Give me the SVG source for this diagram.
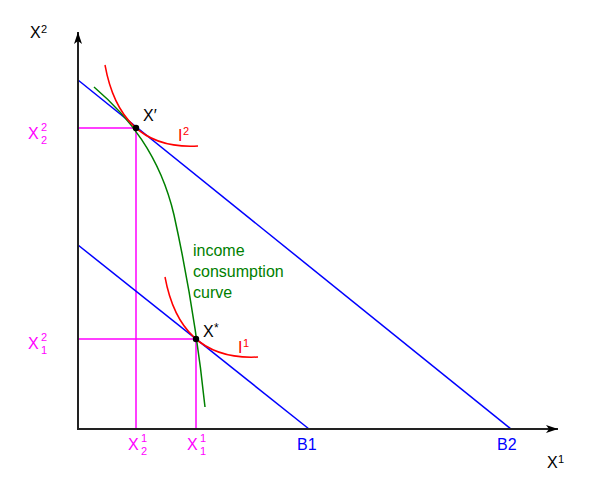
<svg xmlns="http://www.w3.org/2000/svg" width="600" height="492" viewBox="0 0 600 492">
<style>
text{font-family:"Liberation Sans",Arial,sans-serif;font-size:16px}
.sm{font-size:11px}
.mg{fill:#ff00ff}
.bl{fill:#0000ff}
.rd{fill:#ff0000}
.gr{fill:#008000}
.k{fill:#000}
</style>
<defs>
<marker id="ah" markerWidth="14" markerHeight="10" refX="12" refY="5" orient="auto" markerUnits="userSpaceOnUse">
<path d="M0,1 L12,5 L0,9 L3,5 Z" fill="#000"/>
</marker>
</defs>
<rect width="600" height="492" fill="#fff"/>
<g id="connectors" fill="none">
<g id="guides" stroke="#ff00ff" stroke-width="1.5">
<polyline points="78,128 136,128 136,429"/>
<polyline points="78,339 196,339 196,429"/>
</g>
<g id="budgets" stroke="#0000ff" stroke-width="1.5">
<line x1="78" y1="80" x2="511" y2="429"/>
<line x1="78" y1="245" x2="309" y2="429"/>
</g>
<path id="icc" d="M94,87 C128,116 160,155 174,215 C185,265 198,340 205,407" stroke="#008000" stroke-width="1.5"/>
<g id="indiff" stroke="#ff0000" stroke-width="1.5">
<path d="M105,65 Q120.5,150.5 198,146"/>
<path d="M165,277 Q180.5,361 258,357"/>
</g>
<g id="axes" stroke="#222" stroke-width="2">
<line x1="78" y1="430" x2="78" y2="32" marker-end="url(#ah)"/>
<line x1="77" y1="429" x2="558" y2="429" marker-end="url(#ah)"/>
</g>
</g>
<g id="node-xprime">
<circle cx="136" cy="128" r="3.2" fill="#000"/>
<text x="143" y="121" class="k">X′</text>
</g>
<g id="node-xstar">
<circle cx="196" cy="339" r="3.2" fill="#000"/>
<text x="203" y="337" class="k">X</text><text x="214" y="332" class="k" style="font-size:12px">*</text>
</g>
<g id="label-axis-y"><text x="30" y="38" class="k">X</text><text x="41" y="33" class="k sm">2</text></g>
<g id="label-axis-x"><text x="547" y="468" class="k">X</text><text x="558" y="463" class="k sm">1</text></g>
<g id="label-I2"><text x="178" y="141" class="rd">I</text><text x="183" y="135" class="rd sm">2</text></g>
<g id="label-I1"><text x="238" y="353" class="rd">I</text><text x="243" y="347" class="rd sm">1</text></g>
<g id="label-icc" class="gr">
<text x="193" y="256" class="gr">income</text>
<text x="193" y="277" class="gr">consumption</text>
<text x="193" y="298" class="gr">curve</text>
</g>
<g id="label-B1"><text x="297" y="450" class="bl">B1</text></g>
<g id="label-B2"><text x="497" y="450" class="bl">B2</text></g>
<g id="label-x22"><text x="28" y="139" class="mg">X</text><text x="41" y="131" class="mg sm">2</text><text x="41" y="144" class="mg sm">2</text></g>
<g id="label-x12"><text x="28" y="349" class="mg">X</text><text x="41" y="341" class="mg sm">2</text><text x="41" y="354" class="mg sm">1</text></g>
<g id="label-x21"><text x="128" y="450" class="mg">X</text><text x="141" y="442" class="mg sm">1</text><text x="141" y="455" class="mg sm">2</text></g>
<g id="label-x11"><text x="187" y="450" class="mg">X</text><text x="200" y="442" class="mg sm">1</text><text x="200" y="455" class="mg sm">1</text></g>
</svg>
